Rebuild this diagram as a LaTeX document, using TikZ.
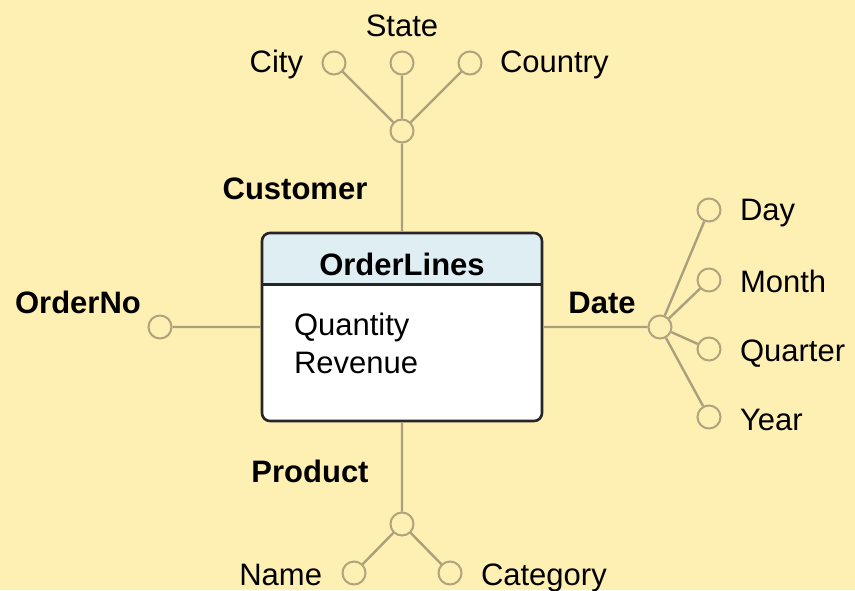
\documentclass[tikz,border=0pt]{standalone}
\usepackage{fontspec}
\setmainfont{Liberation Sans}
\definecolor{paper}{HTML}{FEEFB3}
\definecolor{stem}{HTML}{ABA07C}
\definecolor{ring}{HTML}{B0A37E}
\definecolor{headblue}{HTML}{DFEEF3}
\begin{document}
\begin{tikzpicture}[x=0.5pt,y=-0.5pt,line width=1pt,
        every node/.style={inner sep=0pt,font=\fontsize{15.5}{18}\selectfont},
        att/.style={circle,draw=ring,fill=paper,minimum size=11.5pt},
        role/.style={anchor=base,font=\fontsize{15.5}{18}\selectfont\bfseries},
        link/.style={stem,line width=1.2pt}]
        \fill[paper](0,0)rectangle(855,590);
        \useasboundingbox(0,0)rectangle(855,590);
        % fact table
        \node[draw=black!85,line width=1.3pt,fill=white,rounded corners=4pt,
          minimum width=140pt,minimum height=94pt,
          path picture={\fill[headblue](path picture bounding box.north west)
            rectangle([yshift=-26.5pt]path picture bounding box.north east);}]
          (ol) at (402,327){};
        \draw[black!85,line width=1.3pt]([yshift=-26.5pt]ol.north west)--([yshift=-26.5pt]ol.north east);
        \node[role](olt) at (402,275){OrderLines};
        \node[anchor=base west](qty) at (293,335){Quantity};
        \node[anchor=base west](rev) at (293,373){Revenue};
        % attribute circles
        \node[att](cust) at (402,131){};
        \node[att](city) at (334,63){};
        \node[att](state) at (402,63){};
        \node[att](ctry) at (470,63){};
        \node[att](ordno) at (160,327){};
        \node[att](date) at (660,327){};
        \node[att](day) at (709,210){};
        \node[att](month) at (709,280){};
        \node[att](qtr) at (709,349){};
        \node[att](year) at (709,417){};
        \node[att](prod) at (402,524){};
        \node[att](name) at (354,573){};
        \node[att](cat) at (450,573){};
        \draw[link](ol)--(cust) (cust)--(city) (cust)--(state) (cust)--(ctry)
          (ol)--(ordno) (ol)--(date) (date)--(day) (date)--(month)
          (date)--(qtr) (date)--(year) (ol)--(prod) (prod)--(name) (prod)--(cat);
        % labels
        \node[anchor=base east](cityl) at (304,72){City};
        \node[anchor=base](statel) at (402,36){State};
        \node[anchor=base west](ctryl) at (499,72){Country};
        \node[role](custl) at (295,199){Customer};
        \node[role](ordnol) at (78,313){OrderNo};
        \node[role](datel) at (602,313){Date};
        \node[anchor=base west](dayl) at (739,220){Day};
        \node[anchor=base west](monthl) at (739,292){Month};
        \node[anchor=base west](qtrl) at (739,361){Quarter};
        \node[anchor=base west](yearl) at (739,430){Year};
        \node[role](prodl) at (310,482){Product};
        \node[anchor=base east](namel) at (323,585){Name};
        \node[anchor=base west](catl) at (480,585){Category};
     \end{tikzpicture}
\end{document}
